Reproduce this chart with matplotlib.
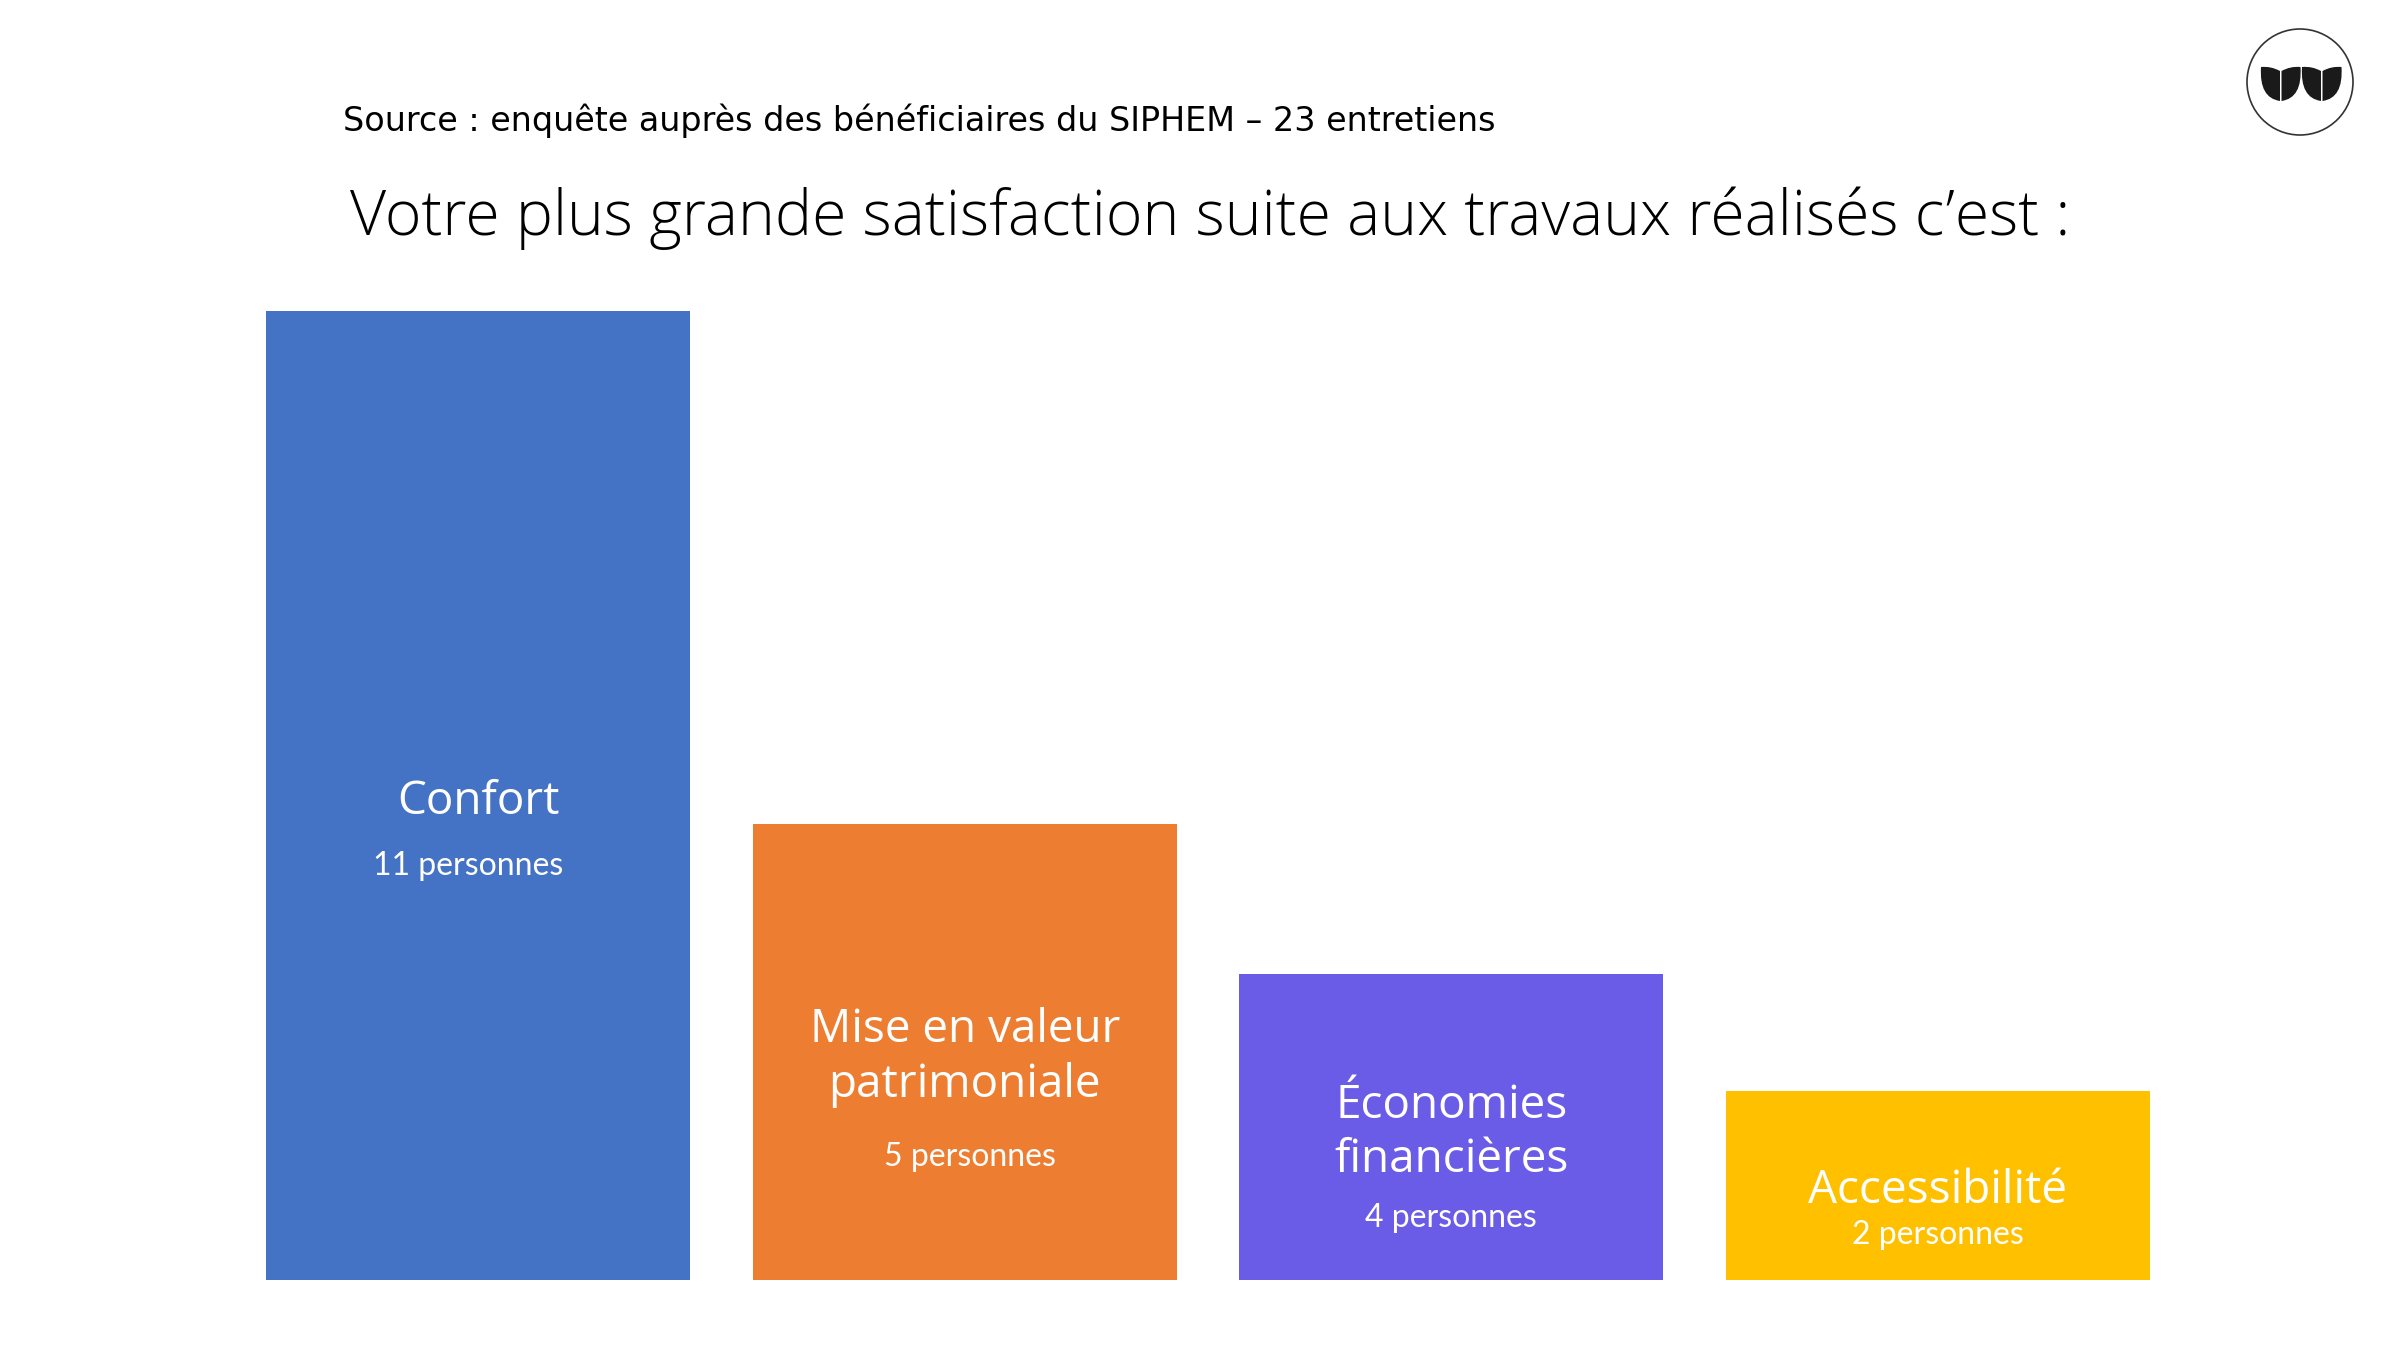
import matplotlib.pyplot as plt
from matplotlib.path import Path
from matplotlib.patches import PathPatch, Circle

plt.rcParams['font.family'] = ['Lato', 'DejaVu Sans']

# data
categories = ['Confort', 'Mise en valeur\npatrimoniale', 'Économies\nfinancières', 'Accessibilité']
counts = [11, 5, 4, 2]
# bar heights as drawn on the slide (in "persons" units, not exactly proportional)
bar_heights = [11, 5.18, 3.47, 2.15]
colors = ['#4472C4', '#ED7D31', '#6B5CE7', '#FFC000']

source_text = 'Source : enquête auprès des bénéficiaires du SIPHEM – 23 entretiens'
title_text = 'Votre plus grande satisfaction suite aux travaux réalisés c\u2019est :'

# label placement inside bars (data y)
label_y = [5.43, 2.53, 1.67, 1.01]
count_y = [4.70, 1.40, 0.70, 0.51]
count_dx = [-0.02, 0.01, 0.0, 0.0]

W, H = 2400, 1350
fig = plt.figure(figsize=(24, 13.5), dpi=100)
fig.patch.set_facecolor('white')

ax = fig.add_axes([266 / W, (H - 1280) / H, 1884 / W, 969 / H])
x = range(len(categories))
ax.bar(x, bar_heights, width=0.872, color=colors)
ax.set_xlim(-0.436, 3.436)
ax.set_ylim(0, 11)
ax.axis('off')

for i, cat in enumerate(categories):
    ax.text(i, label_y[i], cat, ha='center', va='center', color='white',
            fontsize=33, linespacing=1.25, family=['Open Sans', 'DejaVu Sans'])
    ax.text(i + count_dx[i], count_y[i], f'{counts[i]} personnes', ha='center',
            va='center', color='white', fontsize=23)

fig.text(343 / W, 1 - 121 / H, source_text, ha='left', va='center', fontsize=24,
         family=['DejaVu Sans'])
fig.text(1210 / W, 1 - 218 / H, title_text, ha='center', va='center',
         fontsize=45, fontweight='light', color='black',
         family=['Open Sans', 'DejaVu Sans'])

# logo
lax = fig.add_axes([2220 / W, 1 - 150 / H, 180 / W, 140 / H])
lax.set_xlim(0, 180)
lax.set_ylim(140, 0)
lax.set_aspect('equal')
lax.axis('off')
lax.add_patch(Circle((80, 72), 53, fill=False, ec='#333333', lw=1.2))


def leaf(x0, flip):
    # half-lens leaf: pointed outer tip on top, straight inner edge
    pts = [(42, 57), (40, 88), (61, 91), (61, 61), (52, 56), (42, 57)]
    codes = [Path.MOVETO, Path.CURVE3, Path.CURVE3, Path.LINETO, Path.CURVE3, Path.CURVE3]
    if flip:
        pts = [(123.5 - px, py) for px, py in pts]
    pts = [(px + x0, py) for px, py in pts]
    return PathPatch(Path(pts, codes), fc='#1a1a1a', ec='none')


for x0, flip in [(0, False), (0, True), (41, False), (41, True)]:
    lax.add_patch(leaf(x0 - 1, flip))

fig.savefig('out.png', dpi=100, facecolor='white')
